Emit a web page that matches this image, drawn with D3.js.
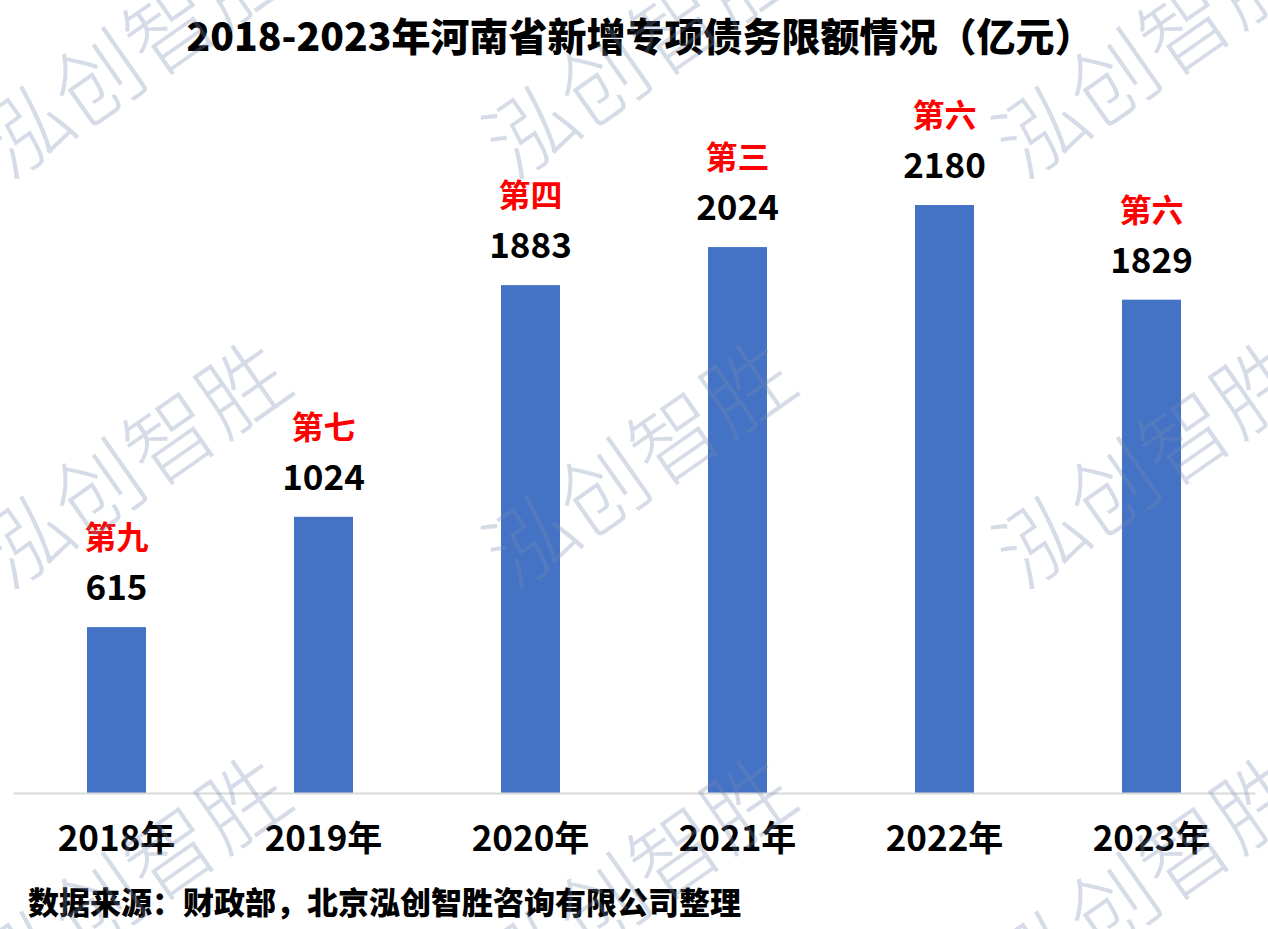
<!DOCTYPE html>
<html><head><meta charset="utf-8">
<script src="https://cdn.jsdelivr.net/npm/d3@7"></script>
<style>
html,body{margin:0;padding:0;background:#fff;}
svg{display:block;font-family:"Noto Sans CJK SC","Microsoft YaHei",sans-serif;}
</style></head>
<body>
<svg id="chart" width="1268" height="929"></svg>
<script>
const categories = ["2018年","2019年","2020年","2021年","2022年","2023年"];
const values = [615, 1024, 1883, 2024, 2180, 1829];
const ranks = ["第九","第七","第四","第三","第六","第六"];
const title = "2018-2023年河南省新增专项债务限额情况（亿元）";
const source = "数据来源：财政部，北京泓创智胜咨询有限公司整理";
const watermark = "泓创智胜";

const svg = d3.select("#chart");
const W = 1268, H = 929;
const baseY = 793;

const x = d3.scaleBand().domain(categories).range([13, 1255]).paddingInner(0.715).paddingOuter(0.3575);
const y = d3.scaleLinear().domain([0, 2180]).range([baseY, 205]);

// watermarks (drawn first, then again on top faintly)
const wmX = [135, 640, 1150];
const wmY = [55, 465, 880];

// title
svg.append("text").attr("x", 640).attr("y", 51).attr("text-anchor", "middle")
  .attr("font-size", 39).attr("font-weight", 900).attr("fill", "#000").text(title);

// bars
svg.append("g").selectAll("rect").data(values).join("rect")
  .attr("x", (d,i) => x(categories[i]))
  .attr("width", x.bandwidth())
  .attr("y", d => y(d))
  .attr("height", d => baseY - y(d))
  .attr("fill", "#4472C4");

// axis
const axis = svg.append("g").attr("transform", `translate(0,${baseY})`)
  .call(d3.axisBottom(x).tickSize(0).tickPadding(0));
axis.select(".domain").attr("stroke", "#d9d9d9").attr("stroke-width", 2);
axis.selectAll(".tick text").attr("font-size", 35).attr("font-weight", 700)
  .attr("fill", "#000").attr("font-family", '"Noto Sans CJK SC",sans-serif')
  .attr("dy", 0).attr("y", 58);

// value labels
svg.append("g").selectAll("text").data(values).join("text")
  .attr("x", (d,i) => x(categories[i]) + x.bandwidth()/2)
  .attr("y", d => y(d) - 27)
  .attr("text-anchor", "middle").attr("font-size", 35).attr("font-weight", 700)
  .attr("fill", "#000").text(d => d);

// rank labels
svg.append("g").selectAll("text").data(ranks).join("text")
  .attr("x", (d,i) => x(categories[i]) + x.bandwidth()/2)
  .attr("y", (d,i) => y(values[i]) - 78)
  .attr("text-anchor", "middle").attr("font-size", 32).attr("font-weight", 700)
  .attr("fill", "#FF0000").text(d => d);

// source
svg.append("text").attr("x", 28).attr("y", 914)
  .attr("font-size", 31).attr("font-weight", 800).attr("fill", "#000").text(source);

// watermarks
const wm = svg.append("g").attr("pointer-events", "none");
wmY.forEach(yy => wmX.forEach(xx => {
  wm.append("text").attr("transform", `translate(${xx},${yy}) rotate(-35)`)
    .attr("text-anchor", "middle").attr("dy", "0.35em")
    .attr("font-size", 88).attr("font-weight", 300)
    .attr("fill", "rgb(120,140,175)").attr("fill-opacity", 0.3)
    .text(watermark);
}));
</script>
</body></html>
